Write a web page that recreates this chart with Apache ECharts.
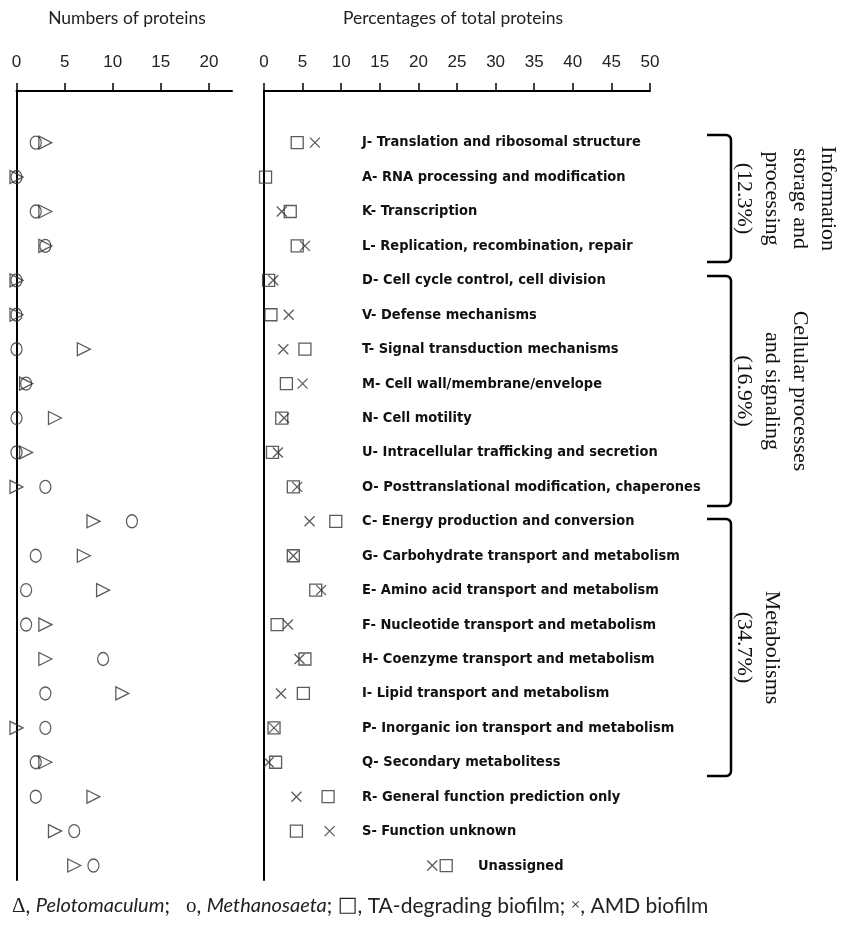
<!DOCTYPE html>
<html>
<head>
<meta charset="utf-8">
<title>COG functional categories</title>
<script src="https://cdn.jsdelivr.net/npm/echarts@6/dist/echarts.min.js"></script>
<style>
  html, body { margin: 0; padding: 0; background: #fff; }
  #chart { width: 841px; height: 931px; }
</style>
</head>
<body>
<div id="chart"></div>
<script>
// COG functional categories, top to bottom
const categories = [
  'J- Translation and ribosomal structure',
  'A- RNA processing and modification',
  'K- Transcription',
  'L- Replication, recombination, repair',
  'D- Cell cycle control, cell division',
  'V- Defense mechanisms',
  'T- Signal transduction mechanisms',
  'M- Cell wall/membrane/envelope',
  'N- Cell motility',
  'U- Intracellular trafficking and secretion',
  'O- Posttranslational modification, chaperones',
  'C- Energy production and conversion',
  'G- Carbohydrate transport and metabolism',
  'E- Amino acid transport and metabolism',
  'F- Nucleotide transport and metabolism',
  'H- Coenzyme transport and metabolism',
  'I- Lipid transport and metabolism',
  'P- Inorganic ion transport and metabolism',
  'Q- Secondary metabolitess',
  'R- General function prediction only',
  'S- Function unknown',
  'Unassigned'
];

// Numbers of proteins
const pelotomaculum = [3, 0, 3, 3, 0, 0, 7, 1, 4, 1, 0, 8, 7, 9, 3, 3, 11, 0, 3, 8, 4, 6];
const methanosaeta  = [2, 0, 2, 3, 0, 0, 0, 1, 0, 0, 3, 12, 2, 1, 1, 9, 3, 3, 2, 2, 6, 8];

// Percentages of total proteins
const taBiofilm  = [4.3, 0.2, 3.4, 4.3, 0.6, 0.9, 5.3, 2.9, 2.3, 1.1, 3.8, 9.3, 3.8, 6.7, 1.7, 5.3, 5.1, 1.3, 1.5, 8.3, 4.2, 23.6];
const amdBiofilm = [6.6, null, 2.3, 5.3, 1.2, 3.2, 2.5, 5.0, 2.6, 1.8, 4.3, 5.9, 3.8, 7.4, 3.1, 4.6, 2.2, 1.3, 0.6, 4.2, 8.5, 21.8];

// Axis tick labels
const countTicks = [0, 5, 10, 15, 20];
const percentTicks = [0, 5, 10, 15, 20, 25, 30, 35, 40, 45, 50];

// Functional groups shown with brackets on the right
const groups = [
  { text: 'Information\nstorage and\nprocessing\n(12.3%)', top: 135, bottom: 262 },
  { text: 'Cellular processes\nand signaling\n(16.9%)', top: 276, bottom: 506 },
  { text: 'Metabolisms\n(34.7%)', top: 519, bottom: 776 }
];

const INK = '#333';
const tickFont = { fontFamily: 'Liberation Sans, Arial, sans-serif', fontSize: 17, color: '#222' };
const labelFont = '"Liberation Sans Narrow", "DejaVu Sans Condensed", sans-serif';

function pairs(values) {
  return values.map((v, i) => (v === null ? null : [v, i])).filter(Boolean);
}

const hollow = { color: 'rgba(0,0,0,0)', borderColor: INK, borderWidth: 1.3 };
const crossPath = 'path://M0,0L10,10M10,0L0,10';

function valueYAxis(gridIndex) {
  return {
    gridIndex, type: 'value', inverse: true, min: -1.5, max: 21.42,
    axisLine: { show: true, onZero: false, lineStyle: { color: '#000', width: 2 } },
    axisTick: { show: false }, axisLabel: { show: false }, splitLine: { show: false }
  };
}

function topXAxis(gridIndex, max, ticks) {
  return {
    gridIndex, type: 'value', position: 'top', min: 0, max,
    axisLine: { show: true, onZero: false, lineStyle: { color: '#000', width: 2 } },
    axisTick: { show: true, length: 8, lineStyle: { color: '#000', width: 1.5 }, customValues: ticks },
    axisLabel: Object.assign({ margin: 20, customValues: ticks }, tickFont),
    splitLine: { show: false }
  };
}

// Bracket outline: serif, rounded corner, vertical run, rounded corner, serif
function bracketPoints(top, bottom) {
  const xv = 731, xl = 707, r = 5, pts = [[xl, top]];
  for (let k = 0; k <= 6; k++) {
    const a = (Math.PI / 2) * (k / 6);
    pts.push([xv - r + r * Math.sin(a), top + r - r * Math.cos(a)]);
  }
  for (let k = 0; k <= 6; k++) {
    const a = (Math.PI / 2) * (k / 6);
    pts.push([xv - r + r * Math.cos(a), bottom - r + r * Math.sin(a)]);
  }
  pts.push([xl, bottom]);
  return pts;
}

const chart = echarts.init(document.getElementById('chart'), null, { renderer: 'canvas' });

const bracketGraphics = [];
groups.forEach(g => {
  bracketGraphics.push({
    type: 'polyline',
    shape: { points: bracketPoints(g.top, g.bottom) },
    style: { fill: null, stroke: '#000', lineWidth: 2.5 }
  });
  bracketGraphics.push({
    type: 'text',
    x: 730, y: (g.top + g.bottom) / 2,
    rotation: -Math.PI / 2,
    style: {
      text: g.text, fill: '#111',
      font: '22px "Liberation Serif", "Times New Roman", serif',
      lineHeight: 28, align: 'center', verticalAlign: 'bottom'
    }
  });
});

const option = {
  animation: false,
  backgroundColor: '#fff',
  title: [
    { text: 'Numbers of proteins', left: 122, top: 4, textAlign: 'center',
      textStyle: { fontFamily: 'Lato, sans-serif', fontWeight: 'normal', fontSize: 17.5, color: '#222' } },
    { text: 'Percentages of total proteins', left: 448, top: 4, textAlign: 'center',
      textStyle: { fontFamily: 'Lato, sans-serif', fontWeight: 'normal', fontSize: 17.5, color: '#222' } }
  ],
  grid: [
    { left: 16.5, top: 91, width: 215.5, height: 789 },
    { left: 264, top: 91, width: 386, height: 789 },
    { left: 362, top: 125.5, width: 330, height: 757.5 }
  ],
  xAxis: [
    topXAxis(0, 22.4, countTicks),
    topXAxis(1, 50, percentTicks),
    { gridIndex: 2, type: 'value', show: false }
  ],
  yAxis: [
    valueYAxis(0),
    valueYAxis(1),
    {
      gridIndex: 2, type: 'category', inverse: true, data: categories,
      axisLine: { show: false }, axisTick: { show: false }, splitLine: { show: false },
      axisLabel: {
        align: 'left', margin: 0, interval: 0,
        fontFamily: labelFont, fontWeight: 'bold', fontSize: 14.5, color: '#111',
        formatter: v => (v === 'Unassigned' ? '{u|' + v + '}' : v),
        rich: {
          u: { padding: [0, 0, 0, 116], fontFamily: labelFont, fontWeight: 'bold', fontSize: 14.5, color: '#111' }
        }
      }
    }
  ],
  series: [
    { name: 'Methanosaeta', type: 'scatter', xAxisIndex: 0, yAxisIndex: 0,
      symbol: 'circle', symbolSize: [11, 13], itemStyle: hollow, data: pairs(methanosaeta) },
    { name: 'Pelotomaculum', type: 'scatter', xAxisIndex: 0, yAxisIndex: 0,
      symbol: 'triangle', symbolSize: [13, 13], symbolRotate: -90, itemStyle: hollow, data: pairs(pelotomaculum) },
    { name: 'TA-degrading biofilm', type: 'scatter', xAxisIndex: 1, yAxisIndex: 1,
      symbol: 'rect', symbolSize: [12, 12], itemStyle: hollow, data: pairs(taBiofilm) },
    { name: 'AMD biofilm', type: 'scatter', xAxisIndex: 1, yAxisIndex: 1,
      symbol: crossPath, symbolSize: [10, 10], itemStyle: hollow, data: pairs(amdBiofilm) }
  ],
  graphic: bracketGraphics.concat([
    {
      type: 'text', x: 12, y: 906,
      style: {
        text: '{g|Δ}, {i|Pelotomaculum};   {s|ο}, {i|Methanosaeta}; {b|□}, TA-degrading biofilm; {x|×}, AMD biofilm',
        font: '21px Lato, sans-serif', fill: '#222', verticalAlign: 'middle',
        rich: {
          i: { font: 'italic 20px Lato, sans-serif', fill: '#222' },
          g: { font: '21px "Liberation Serif", serif', fill: '#222' },
          s: { font: '21px "Liberation Serif", serif', fill: '#222' },
          b: { font: '21px "DejaVu Sans", sans-serif', fill: '#222' },
          x: { font: '17px "Liberation Serif", serif', fill: '#222' }
        }
      }
    }
  ])
};

chart.setOption(option);
</script>
</body>
</html>
